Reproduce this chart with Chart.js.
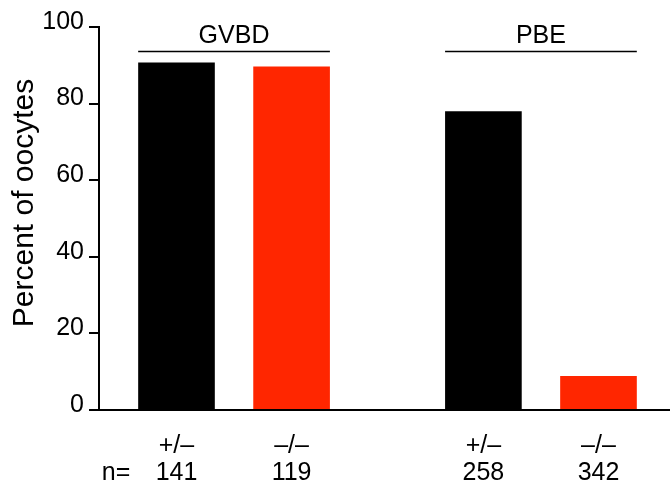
<!DOCTYPE html>
<html>
<head>
<meta charset="utf-8">
<script src="https://cdn.jsdelivr.net/npm/chart.js@4/dist/chart.umd.min.js"></script>
<style>
  html, body { margin: 0; padding: 0; background: #fff; }
  #wrap { width: 670px; height: 483px; }
</style>
</head>
<body>
<div id="wrap"><canvas id="chart"></canvas></div>
<script>
// Данные: две стадии × два генотипа.
const GROUPS = ['GVBD', 'PBE'];
const GENOTYPES = ['+/–', '–/–'];
const HET_PERCENT = [90.7, 78.0];
const KO_PERCENT = [89.7, 8.9];
const HET_N = [141, 258];
const KO_N = [119, 342];
const Y_TICKS = [0, 20, 40, 60, 80, 100];

const FONT = '"Liberation Sans", Arial, Helvetica, sans-serif';
const SERIES_COLORS = ['#000000', '#ff2600'];

// Подписи под осью, групповые заголовки с чертой и подпись оси Y.
const annotations = {
  id: 'annotations',
  afterDraw(chart) {
    const ctx = chart.ctx;
    const metas = [chart.getDatasetMeta(0), chart.getDatasetMeta(1)];
    const counts = [HET_N, KO_N];
    ctx.save();
    ctx.fillStyle = '#000';
    ctx.strokeStyle = '#000';
    ctx.textAlign = 'center';
    ctx.textBaseline = 'alphabetic';
    ctx.font = `25px ${FONT}`;

    metas.forEach((meta, d) => {
      meta.data.forEach((bar, i) => {
        ctx.fillText(GENOTYPES[d], bar.x, 453);
        ctx.fillText(String(counts[d][i]), bar.x, 480);
      });
    });
    ctx.fillText('n=', 116, 480);

    GROUPS.forEach((name, i) => {
      const first = metas[0].data[i];
      const last = metas[metas.length - 1].data[i];
      const l = first.x - first.width / 2;
      const r = last.x + last.width / 2;
      ctx.lineWidth = 1.5;
      ctx.beginPath();
      ctx.moveTo(l, 51.5);
      ctx.lineTo(r, 51.5);
      ctx.stroke();
      ctx.fillText(name, (l + r) / 2, 43);
    });

    ctx.font = `30px ${FONT}`;
    ctx.translate(33, 203);
    ctx.rotate(-Math.PI / 2);
    ctx.fillText('Percent of oocytes', 0, 0);
    ctx.restore();
  },
};

const datasets = [HET_PERCENT, KO_PERCENT].map((values, d) => ({
  label: GENOTYPES[d],
  data: values.map((y, i) => ({ x: i, y })),
  backgroundColor: SERIES_COLORS[d],
  borderWidth: 0,
  categoryPercentage: 0.75,
  barPercentage: 0.666,
}));

new Chart(document.getElementById('chart'), {
  type: 'bar',
  data: { datasets },
  plugins: [annotations],
  options: {
    responsive: true,
    maintainAspectRatio: false,
    animation: false,
    layout: { padding: { top: 27, right: 0, bottom: 0, left: 0 } },
    plugins: { legend: { display: false }, tooltip: { enabled: false } },
    scales: {
      x: {
        type: 'linear',
        min: -0.44,
        max: 1.4205,
        offset: false,
        afterBuildTicks: (scale) => { scale.ticks = GROUPS.map((_, i) => ({ value: i })); },
        afterFit: (scale) => { scale.height = 73; },
        ticks: { display: false },
        grid: { display: false },
        border: { display: true, color: '#000', width: 2 },
      },
      y: {
        min: 0,
        max: 100,
        afterBuildTicks: (scale) => { scale.ticks = Y_TICKS.map((v) => ({ value: v })); },
        afterFit: (scale) => { scale.width = 99; },
        // подписи в оригинале приподняты над засечками
        ticks: { color: '#000', font: { family: FONT, size: 25 }, padding: 5, labelOffset: -5 },
        grid: {
          drawOnChartArea: false,
          drawTicks: true,
          tickLength: 10,
          tickColor: '#000',
          tickWidth: 2,
          color: '#000',
          lineWidth: 2,
        },
        border: { display: true, color: '#000', width: 2 },
      },
    },
  },
});
</script>
</body>
</html>
